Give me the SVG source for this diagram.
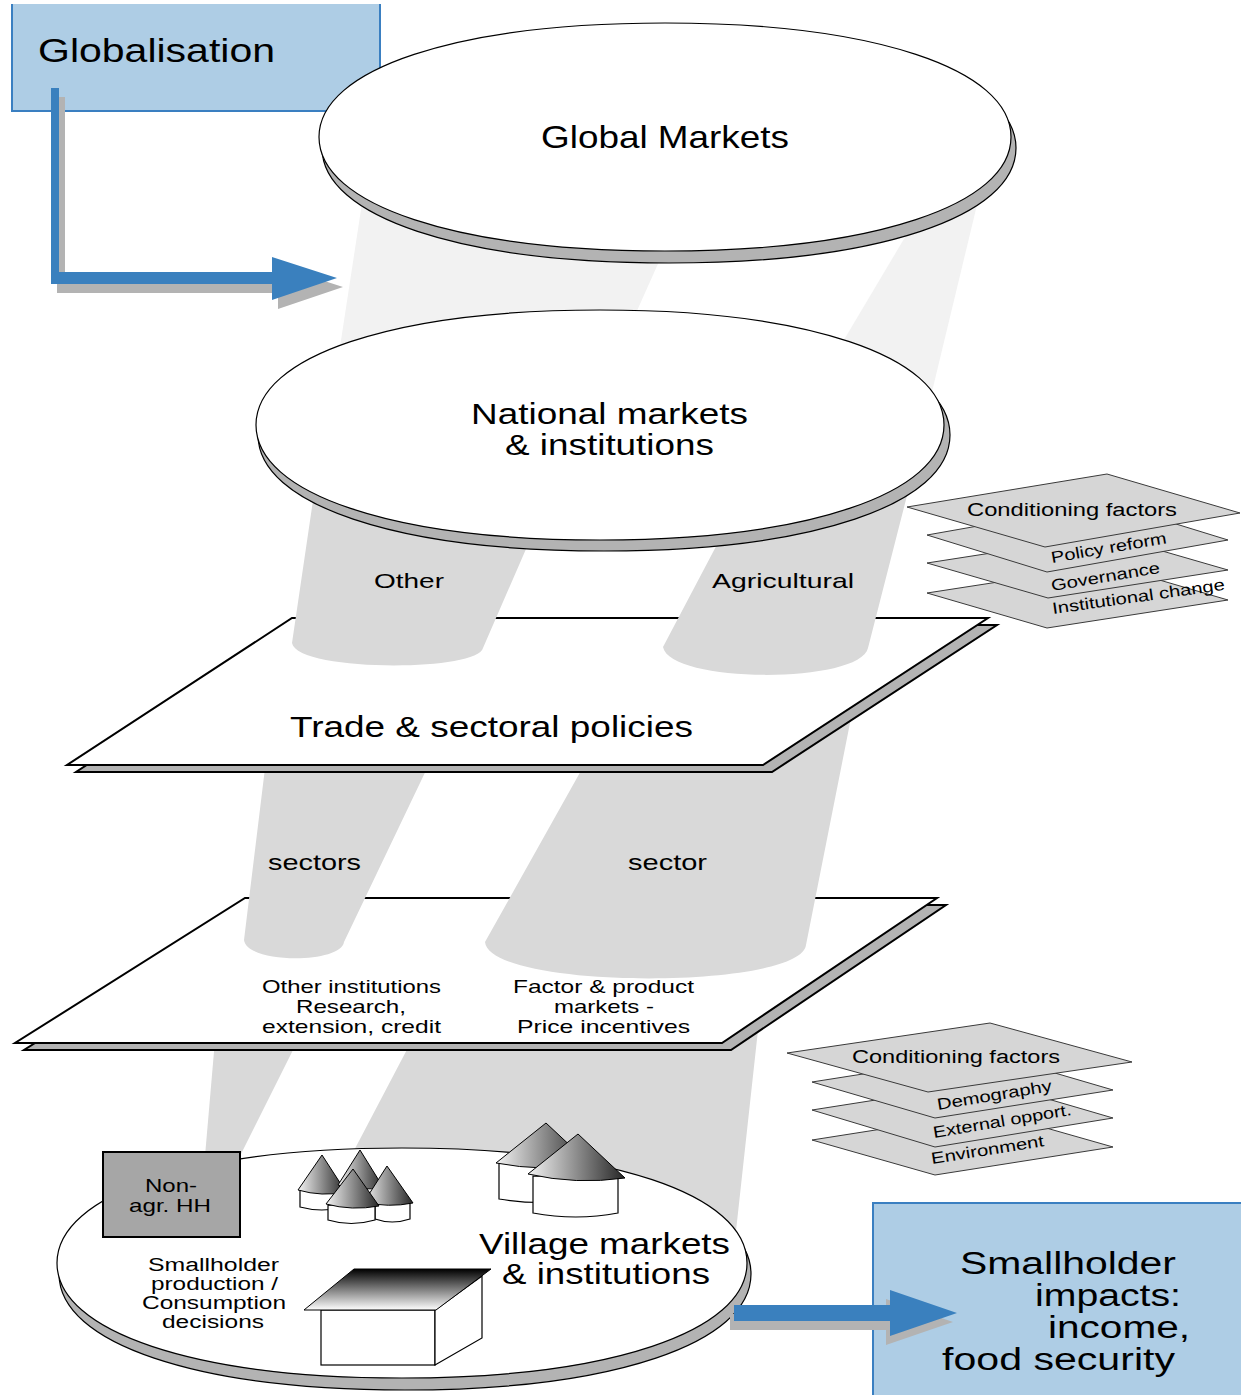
<svg xmlns="http://www.w3.org/2000/svg" width="1241" height="1395" viewBox="0 0 1241 1395">
<defs>
<style>
.t{font-family:"Liberation Sans",Arial,sans-serif;fill:#000}
.beam{fill:#f2f2f2}
.cone{fill:#d9d9d9}
.disc{fill:#fff;stroke:#000;stroke-width:1.2}
.discSh{fill:#b3b3b3;stroke:#000;stroke-width:1.2}
.plane{fill:#fff;stroke:#000;stroke-width:2}
.planeSh{fill:#b3b3b3;stroke:#000;stroke-width:2}
.cf{fill:#d6d6d6;stroke:#3a3a3a;stroke-width:1}
.blue{fill:#3a80be}
.sh{fill:#b3b3b3}
.box{fill:#aecde5}
.edge{fill:none;stroke:#3a7fc1;stroke-width:2}
.wall{fill:#fff;stroke:#000;stroke-width:1.2}
.roof{fill:url(#cone);stroke:#000;stroke-width:1}
</style>
<linearGradient id="cone" x1="0" y1="0" x2="1" y2="0">
<stop offset="0" stop-color="#f4f4f4"/>
<stop offset="1" stop-color="#262626"/>
</linearGradient>
<linearGradient id="roofg" x1="0" y1="0" x2="0" y2="1">
<stop offset="0" stop-color="#000"/>
<stop offset="1" stop-color="#fff"/>
</linearGradient>
</defs>
<rect width="1241" height="1395" fill="#fff"/>

<g id="globalisation">
<rect class="box" x="11" y="4" width="370" height="108"/>
<polyline class="edge" points="12,4 12,111 380,111 380,4"/>
<text class="t" x="38" y="62" font-size="34" textLength="237" lengthAdjust="spacingAndGlyphs">Globalisation</text>
</g>

<g id="beams-top">
<polygon class="beam" points="364,190 691,190 615,360 338,360"/>
<polygon class="beam" points="939,180 983,180 930,400 832,360"/>
</g>

<g id="global-markets">
<path class="discSh" d="M322,148 C322,79 460.8,33 669,33 C877.2,33 1016,79 1016,148 C1016,217 877.2,263 669,263 C460.8,263 322,217 322,148 Z"/>
<path class="disc" d="M319,137 C319,68.6 457.4,23 665,23 C872.6,23 1011,68.6 1011,137 C1011,205.4 872.6,251 665,251 C457.4,251 319,205.4 319,137 Z"/>
<text class="t" x="541" y="148" font-size="32" textLength="248" lengthAdjust="spacingAndGlyphs">Global Markets</text>
</g>

<g id="beams-lower">
<polygon class="cone" points="215,1040 298,1040 240,1156 205,1156"/>
<polygon class="cone" points="412,1040 758,1030 735,1240 650,1200 450,1170 349,1160"/>
</g>

<g id="plane-institutions">
<polygon class="planeSh" points="254,905 946,905 731,1050 24,1050"/>
<polygon class="plane" points="245,898 937,898 722,1043 15,1043"/>
</g>

<g id="cones-mid">
<path class="cone" d="M266,760 L244,940 C247,964 341,964 344,942 L431,760 Z"/>
<path class="cone" d="M587,760 L485,942 C490,990 800,990 806,945 L850,723 L857,700 L700,700 Z"/>
<text class="t" x="268" y="870" font-size="22" textLength="93" lengthAdjust="spacingAndGlyphs">sectors</text>
<text class="t" x="628" y="870" font-size="22" textLength="79" lengthAdjust="spacingAndGlyphs">sector</text>
</g>

<g id="institutions-labels">
<text class="t" x="262" y="993" font-size="19" textLength="179" lengthAdjust="spacingAndGlyphs">Other institutions</text>
<text class="t" x="296" y="1013" font-size="19" textLength="110" lengthAdjust="spacingAndGlyphs">Research,</text>
<text class="t" x="262" y="1033" font-size="19" textLength="179" lengthAdjust="spacingAndGlyphs">extension, credit</text>
<text class="t" x="513" y="993" font-size="19" textLength="181" lengthAdjust="spacingAndGlyphs">Factor &amp; product</text>
<text class="t" x="554" y="1013" font-size="19" textLength="100" lengthAdjust="spacingAndGlyphs">markets -</text>
<text class="t" x="517" y="1033" font-size="19" textLength="173" lengthAdjust="spacingAndGlyphs">Price incentives</text>
</g>

<g id="plane-policies">
<polygon class="planeSh" points="301,625 997,625 772,772 76,772"/>
<polygon class="plane" points="292,618 988,618 763,765 67,765"/>
<text class="t" x="290" y="737" font-size="30" textLength="403" lengthAdjust="spacingAndGlyphs">Trade &amp; sectoral policies</text>
</g>

<g id="cones-upper">
<path class="cone" d="M316,480 L292,643 C297,672 478,672 483,648 L556,480 Z"/>
<path class="cone" d="M751,480 L663,647 C670,684 860,684 868,648 L911,480 Z"/>
<text class="t" x="374" y="588" font-size="21" textLength="70" lengthAdjust="spacingAndGlyphs">Other</text>
<text class="t" x="712" y="588" font-size="21" textLength="142" lengthAdjust="spacingAndGlyphs">Agricultural</text>
</g>

<g id="national-markets">
<path class="discSh" d="M258,435 C258,365.4 396.4,319 604,319 C811.6,319 950,365.4 950,435 C950,504.6 811.6,551 604,551 C396.4,551 258,504.6 258,435 Z"/>
<path class="disc" d="M256,425 C256,356 393.6,310 600,310 C806.4,310 944,356 944,425 C944,494 806.4,540 600,540 C393.6,540 256,494 256,425 Z"/>
<text class="t" x="471" y="424" font-size="30" textLength="277" lengthAdjust="spacingAndGlyphs">National markets</text>
<text class="t" x="505" y="455" font-size="30" textLength="209" lengthAdjust="spacingAndGlyphs">&amp; institutions</text>
</g>

<g id="conditioning-national">
<polygon class="cf" points="927,593 1108,565 1228,600 1047,628"/>
<text class="t" x="1053" y="614" font-size="16" textLength="174" lengthAdjust="spacingAndGlyphs" transform="rotate(-8 1053 614)">Institutional change</text>
<polygon class="cf" points="927,563 1107,535 1228,570 1048,598"/>
<text class="t" x="1052" y="591" font-size="16" textLength="110" lengthAdjust="spacingAndGlyphs" transform="rotate(-9.5 1052 591)">Governance</text>
<polygon class="cf" points="927,535 1108,503 1228,540 1047,572"/>
<text class="t" x="1052" y="563" font-size="16" textLength="117" lengthAdjust="spacingAndGlyphs" transform="rotate(-9.8 1052 563)">Policy reform</text>
<polygon class="cf" points="907,507 1107,474 1240,513 1045,547"/>
<text class="t" x="967" y="516" font-size="18" textLength="210" lengthAdjust="spacingAndGlyphs">Conditioning factors</text>
</g>

<g id="conditioning-village">
<polygon class="cf" points="812,1140 990,1112 1113,1147 935,1175"/>
<text class="t" x="932" y="1164" font-size="16" textLength="114" lengthAdjust="spacingAndGlyphs" transform="rotate(-9 932 1164)">Environment</text>
<polygon class="cf" points="812,1110 990,1082 1113,1118 935,1147"/>
<text class="t" x="934" y="1138" font-size="16" textLength="140" lengthAdjust="spacingAndGlyphs" transform="rotate(-9.5 934 1138)">External opport.</text>
<polygon class="cf" points="812,1082 990,1054 1113,1090 935,1118"/>
<text class="t" x="938" y="1110" font-size="16" textLength="116" lengthAdjust="spacingAndGlyphs" transform="rotate(-9.5 938 1110)">Demography</text>
<polygon class="cf" points="787,1053 990,1023 1132,1062 928,1092"/>
<text class="t" x="852" y="1063" font-size="18" textLength="208" lengthAdjust="spacingAndGlyphs">Conditioning factors</text>
</g>

<g id="village-markets">
<path class="discSh" d="M59,1274 C59,1204.4 197.4,1158 405,1158 C612.6,1158 751,1204.4 751,1274 C751,1343.6 612.6,1390 405,1390 C197.4,1390 59,1343.6 59,1274 Z"/>
<path class="disc" d="M57,1263 C57,1194 195,1148 402,1148 C609,1148 747,1194 747,1263 C747,1332 609,1378 402,1378 C195,1378 57,1332 57,1263 Z"/>
<text class="t" x="479" y="1254" font-size="29" textLength="251" lengthAdjust="spacingAndGlyphs">Village markets</text>
<text class="t" x="502" y="1284" font-size="29" textLength="208" lengthAdjust="spacingAndGlyphs">&amp; institutions</text>
<text class="t" x="148" y="1271" font-size="18" textLength="131" lengthAdjust="spacingAndGlyphs">Smallholder</text>
<text class="t" x="151" y="1290" font-size="18" textLength="127" lengthAdjust="spacingAndGlyphs">production /</text>
<text class="t" x="142" y="1309" font-size="18" textLength="144" lengthAdjust="spacingAndGlyphs">Consumption</text>
<text class="t" x="162" y="1328" font-size="18" textLength="102" lengthAdjust="spacingAndGlyphs">decisions</text>
</g>

<g id="non-agr-hh">
<rect x="103" y="1152" width="137" height="85" fill="#a6a6a6" stroke="#000" stroke-width="2"/>
<text class="t" x="145" y="1192" font-size="19" textLength="52" lengthAdjust="spacingAndGlyphs">Non-</text>
<text class="t" x="129" y="1212" font-size="19" textLength="82" lengthAdjust="spacingAndGlyphs">agr. HH</text>
</g>

<g id="huts-small">
<path class="wall" d="M300,1190 L300,1207 Q322,1213 343,1207 L343,1190 Z"/>
<path class="roof" d="M298,1190 L322,1155 L346,1192 Q322,1197 298,1190 Z"/>
<path class="wall" d="M341,1185 L341,1201 Q360,1207 380,1201 L380,1186 Z"/>
<path class="roof" d="M338,1185 L360,1150 L383,1187 Q360,1192 338,1185 Z"/>
<path class="wall" d="M375,1202 L375,1219 Q392,1225 410,1219 L410,1203 Z"/>
<path class="roof" d="M364,1202 L387,1166 L413,1203 Q388,1208 364,1202 Z"/>
<path class="wall" d="M328,1205 L328,1220 Q351,1227 375,1220 L375,1206 Z"/>
<path class="roof" d="M326,1204 L353,1169 L379,1206 Q352,1211 326,1204 Z"/>
</g>

<g id="huts-large">
<path class="wall" d="M499,1163 L499,1199 Q542,1206 585,1199 L585,1165 Z"/>
<path class="roof" d="M496,1163 L546,1123 L591,1165 Q543,1172 496,1163 Z"/>
<path class="wall" d="M533,1176 L533,1213 Q576,1221 618,1213 L618,1178 Z"/>
<path class="roof" d="M528,1174 L578,1134 L625,1178 Q576,1185 528,1174 Z"/>
</g>

<g id="farmhouse">
<rect x="321" y="1310" width="114" height="55" fill="#fff" stroke="#000" stroke-width="1.2"/>
<polygon points="435,1310 482,1276 482,1338 435,1365" fill="#fff" stroke="#000" stroke-width="1.2"/>
<polygon points="304,1310 354,1269 491,1269 436,1310" fill="url(#roofg)" stroke="#000" stroke-width="1"/>
</g>

<g id="smallholder-impacts">
<rect class="box" x="872" y="1202" width="380" height="200"/>
<polyline class="edge" points="873,1400 873,1203 1241,1203"/>
<text class="t" x="960" y="1274" font-size="31" textLength="216" lengthAdjust="spacingAndGlyphs">Smallholder</text>
<text class="t" x="1035" y="1306" font-size="31" textLength="146" lengthAdjust="spacingAndGlyphs">impacts:</text>
<text class="t" x="1048" y="1338" font-size="31" textLength="142" lengthAdjust="spacingAndGlyphs">income,</text>
<text class="t" x="942" y="1370" font-size="31" textLength="233" lengthAdjust="spacingAndGlyphs">food security</text>
</g>

<g id="connectors">
<polygon class="sh" transform="translate(6,9)" points="51,88 59,88 59,272 272,272 272,257 337,278 272,300 272,284 51,284"/>
<polygon class="blue" points="51,88 59,88 59,272 272,272 272,257 337,278 272,300 272,284 51,284"/>
<polygon class="sh" transform="translate(-4,9)" points="734,1305 890,1305 890,1290 957,1313 890,1336 890,1321 734,1321"/>
<polygon class="blue" points="734,1305 890,1305 890,1290 957,1313 890,1336 890,1321 734,1321"/>
</g>
</svg>
